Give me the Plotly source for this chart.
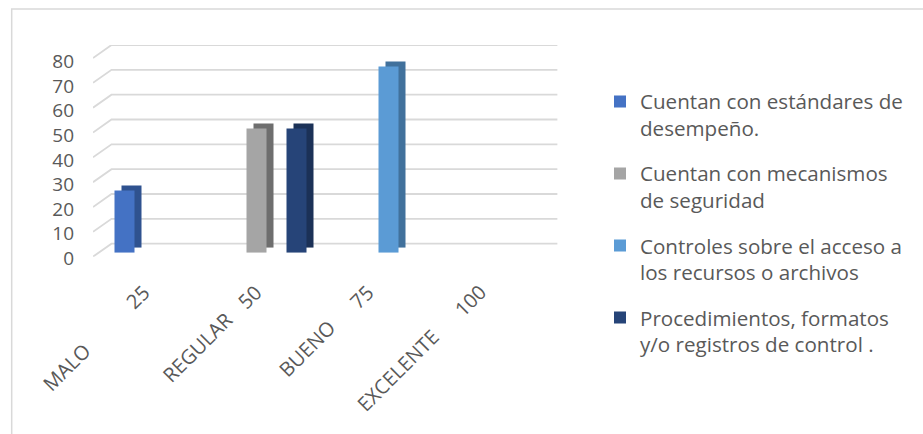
import plotly.graph_objects as go

# ---------------- data ----------------
CATEGORIES = ["MALO", "REGULAR", "BUENO", "EXCELENTE"]
SCORES = ["25", "50", "75", "100"]
SERIES_NAMES = [
    "Cuentan con estándares de<br>desempeño.",
    "Cuentan con mecanismos<br>de seguridad",
    "Controles sobre el acceso a<br>los recursos o archivos",
    "Procedimientos, formatos<br>y/o registros de control .",
]
ESTANDARES = [25, 0, 0, 0]
MECANISMOS = [0, 50, 0, 0]
CONTROLES = [0, 0, 75, 0]
PROCEDIMIENTOS = [0, 50, 0, 0]
Y_TICKS = [0, 10, 20, 30, 40, 50, 60, 70, 80]

SERIES_VALUES = [ESTANDARES, MECANISMOS, CONTROLES, PROCEDIMIENTOS]
FRONT_COLORS = ["#4472C4", "#A5A5A5", "#5B9BD5", "#264478"]
SIDE_COLORS = ["#2F528F", "#6E6E6E", "#41719C", "#1B3157"]

# ---------------- geometry (pixels) ----------------
W, H = 923, 434
def fx(px):
    return px / W
def fy(py):
    return 1 - py / H

YMAX = 80
PX_PER_UNIT = 2.484
FRONT_FLOOR_Y = 256.7
FLOOR_DX, FLOOR_DY = 18.5, 13.0
WALL_LEFT, WALL_RIGHT = 111.5, 557.6
BAR_LEFT, CAT_W = 98.5, 112.0
BAR_BASE = 252.7
BAR_DX, BAR_DY = 7.0, 5.0
TEXT_COLOR = "#595959"
FONT = "Open Sans"

def cat_px(i):
    return BAR_LEFT + (i + 0.5) * CAT_W

fig = go.Figure()

# back wall gridlines + floor diagonals (subplot xy)
grid_left = WALL_LEFT - FLOOR_DX
wall_frac = FLOOR_DX / (WALL_RIGHT - grid_left)
gx, gy = [], []
for v in Y_TICKS:
    gx += [0, wall_frac, 1, None]
    gy += [v - FLOOR_DY / PX_PER_UNIT, v, v, None]
fig.add_trace(go.Scatter(x=gx, y=gy, mode="lines", line=dict(color="#D9D9D9", width=1.8),
                         showlegend=False, hoverinfo="skip", xaxis="x", yaxis="y"))

# bar depth (side faces) subplot x2y2
for vals, col in zip(SERIES_VALUES, SIDE_COLORS):
    fig.add_trace(go.Bar(x=CATEGORIES, y=vals, marker=dict(color=col, line=dict(width=0)),
                         showlegend=False, hoverinfo="skip", xaxis="x2", yaxis="y2"))

# bar front faces subplot x3y3
for name, vals, col in zip(SERIES_NAMES, SERIES_VALUES, FRONT_COLORS):
    fig.add_trace(go.Bar(x=CATEGORIES, y=vals, name=name, legendgroup=name,
                         marker=dict(color=col, line=dict(width=0)),
                         hoverinfo="skip", xaxis="x3", yaxis="y3"))

# value-axis labels subplot x4y4
fig.add_trace(go.Scatter(x=[None], y=[None], showlegend=False, hoverinfo="skip",
                         xaxis="x4", yaxis="y4"))

hidden = dict(visible=False, showgrid=False, zeroline=False, fixedrange=True, automargin=False)
wall_top = FRONT_FLOOR_Y - FLOOR_DY - YMAX * PX_PER_UNIT
bar_top = BAR_BASE - YMAX * PX_PER_UNIT

fig.update_layout(
    template="none",
    width=W, height=H,
    margin=dict(l=0, r=0, t=0, b=0, pad=0, autoexpand=False),
    paper_bgcolor="white", plot_bgcolor="rgba(0,0,0,0)",
    font=dict(family=FONT, color=TEXT_COLOR, size=20),
    barmode="group", bargap=32 / 112, bargroupgap=0,
    xaxis=dict(hidden, domain=[fx(grid_left), fx(WALL_RIGHT)], range=[0, 1]),
    yaxis=dict(hidden, domain=[fy(FRONT_FLOOR_Y), fy(wall_top)],
               range=[-FLOOR_DY / PX_PER_UNIT, YMAX]),
    xaxis2=dict(hidden, type="category", anchor="y2",
                domain=[fx(BAR_LEFT + BAR_DX), fx(BAR_LEFT + BAR_DX + 4 * CAT_W)],
                range=[-0.5, 3.5]),
    yaxis2=dict(hidden, anchor="x2", domain=[fy(BAR_BASE - BAR_DY), fy(bar_top - BAR_DY)],
                range=[0, YMAX]),
    xaxis3=dict(hidden, type="category", anchor="y3",
                domain=[fx(BAR_LEFT), fx(BAR_LEFT + 4 * CAT_W)], range=[-0.5, 3.5]),
    yaxis3=dict(hidden, anchor="x3", domain=[fy(BAR_BASE), fy(bar_top)], range=[0, YMAX]),
    xaxis4=dict(hidden, anchor="y4", domain=[fx(75), fx(77)], range=[0, 1]),
    yaxis4=dict(anchor="x4", domain=[fy(258), fy(61.7)], range=[0, YMAX],
                tickmode="array", tickvals=Y_TICKS, ticktext=[str(t) for t in Y_TICKS],
                showgrid=False, zeroline=False, showline=False, ticks="", automargin=False,
                tickfont=dict(size=19, color=TEXT_COLOR, family=FONT), fixedrange=True),
    legend=dict(x=fx(600), y=fy(81.5), xanchor="left", yanchor="top",
                font=dict(size=20.6, color=TEXT_COLOR, family=FONT),
                valign="top", tracegroupgap=15.5, bgcolor="rgba(0,0,0,0)",
                traceorder="grouped", borderwidth=0),
    showlegend=True,
)

# chart-area border
fig.add_shape(type="rect", xref="paper", yref="paper",
              x0=fx(11.7), x1=1.1, y0=-0.1, y1=fy(9),
              line=dict(color="#D9D9D9", width=1.5), fillcolor="rgba(0,0,0,0)", layer="below")

# inner category labels (scores)
for i, s in enumerate(SCORES):
    fig.add_annotation(text=s, xref="paper", yref="paper", x=fx(cat_px(i) + 4), y=fy(276),
                       xanchor="right", yanchor="top", textangle=-45, showarrow=False,
                       font=dict(size=20, color=TEXT_COLOR, family=FONT))

# outer category labels
OUTER_DX = [-0.79, -0.62, -0.64, -0.83]
OUTER_Y = [367, 347, 348, 370]
for i, c in enumerate(CATEGORIES):
    fig.add_annotation(text=c, xref="paper", yref="paper",
                       x=fx(cat_px(i + OUTER_DX[i])), y=fy(OUTER_Y[i]),
                       xanchor="center", yanchor="middle", textangle=-45, showarrow=False,
                       font=dict(size=20, color=TEXT_COLOR, family=FONT))

fig.write_html("out.html")
